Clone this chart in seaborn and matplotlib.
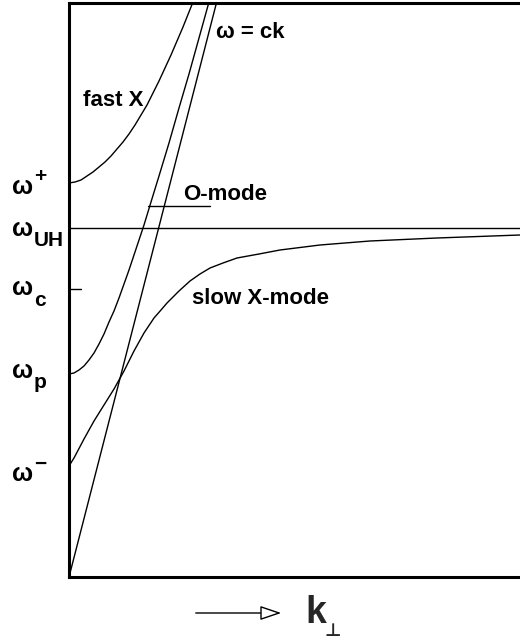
import matplotlib
matplotlib.use('Agg')
import matplotlib.pyplot as plt
import seaborn as sns
import pandas as pd

sns.set_style('white')
plt.rcParams['font.family'] = ['Liberation Sans', 'DejaVu Sans']

# characteristic frequencies (arbitrary units, axis runs 0..574)
w_minus = 111
w_p = 203
w_c = 288
w_uh = 349
w_plus = 394
k_max = 451
w_max = 574

# light line  w = ck
light_k = [0, 150]
light_w = [0, 584]

# O-mode, starts at w_p
omode_k = [0, 5, 10, 15, 20, 25, 30, 35, 40, 45, 50, 55, 60, 67, 75, 82, 90, 100, 110, 120, 130, 145]
omode_w = [203, 204, 207, 211, 217, 224, 233, 243, 255, 266, 279, 293, 307, 328, 352, 375, 401, 434, 469, 503, 539, 593]

# fast X-mode, starts at w+
fastx_k = [0, 6, 12, 18, 24, 30, 36, 42, 48, 54, 60, 66, 72, 78, 84, 90, 96, 102, 108, 114, 120, 126]
fastx_w = [394, 395, 397, 401, 405, 410, 415, 421, 428, 435, 443, 452, 462, 472, 484, 496, 509, 522, 536, 550, 565, 580]

# slow X-mode, starts at w-, approaches w_UH
slowx_k = [0, 5, 15, 25, 35, 45, 55, 65, 75, 85, 92, 98, 104, 110, 121, 131, 141, 154, 168, 190, 211, 251, 301, 368, 451]
slowx_w = [111, 119, 138, 156, 172, 188, 206, 226, 244, 259, 267, 274, 280, 286, 296, 303, 309, 314, 319, 323, 327, 332, 336, 339, 342]

fig = plt.figure(figsize=(5.2, 6.41), dpi=100)
ax = fig.add_axes([69 / 520, 64 / 641, 451 / 520, 574 / 641])

curves = [(light_k, light_w), (omode_k, omode_w), (fastx_k, fastx_w), (slowx_k, slowx_w)]
for ks, ws in curves:
    df = pd.DataFrame({'k': ks, 'w': ws})
    sns.lineplot(data=df, x='k', y='w', ax=ax, color='black', lw=1.0, estimator=None, sort=False)

# upper hybrid level and w_c tick
ax.plot([0, k_max], [w_uh, w_uh], color='black', lw=1.0)
ax.plot([0, 12], [w_c, w_c], color='black', lw=1.0)
# leader line for O-mode label
ax.plot([79, 141], [371, 371], color='black', lw=1.0)

ax.set_xlim(0, k_max)
ax.set_ylim(0, w_max)
ax.set_xticks([])
ax.set_yticks([])
ax.set_xlabel('')
ax.set_ylabel('')
for side in ['left', 'top', 'bottom']:
    ax.spines[side].set_linewidth(2.2)
    ax.spines[side].set_color('black')
ax.spines['right'].set_visible(False)

lab = dict(fontsize=16, fontweight='bold', color='black')
ax.text(14, 477, 'fast X', ha='left', va='center', **lab)
ax.text(147, 544, 'ω = ck', ha='left', va='center', **lab)
ax.text(114, 382, 'O-mode', ha='left', va='center', **lab)
ax.text(123, 279, 'slow X-mode', ha='left', va='center', **lab)

# frequency labels on the left
ylab = dict(fontsize=18, fontweight='bold', color='black', clip_on=False)
sub = dict(fontsize=15, fontweight='bold', color='black', clip_on=False)
freq_labels = [('+', 390, 401), ('UH', 348, 337), ('c', 289, 277), ('p', 206, 194), ('−', 103, 113)]
for s, wy, sy in freq_labels:
    ax.text(-57, wy, 'ω', ha='left', va='center', **ylab)
    ax.text(-35, sy, s, ha='left', va='center', **sub)

# k_perp arrow below the axis
fig.add_artist(plt.matplotlib.patches.FancyArrowPatch(
    (193 / 520, 1 - 613 / 641), (284 / 520, 1 - 613 / 641), transform=fig.transFigure,
    arrowstyle='-|>,head_length=0.65,head_width=0.22', mutation_scale=20,
    fc='white', ec='black', lw=1.0))
fig.text(305 / 520, 1 - 613 / 641, 'k', ha='left', va='center', fontsize=27, fontweight='bold')
fig.text(325 / 520, 1 - 631 / 641, '⊥', ha='left', va='center', fontsize=13, fontweight='bold')

fig.savefig('out.png', dpi=100)
